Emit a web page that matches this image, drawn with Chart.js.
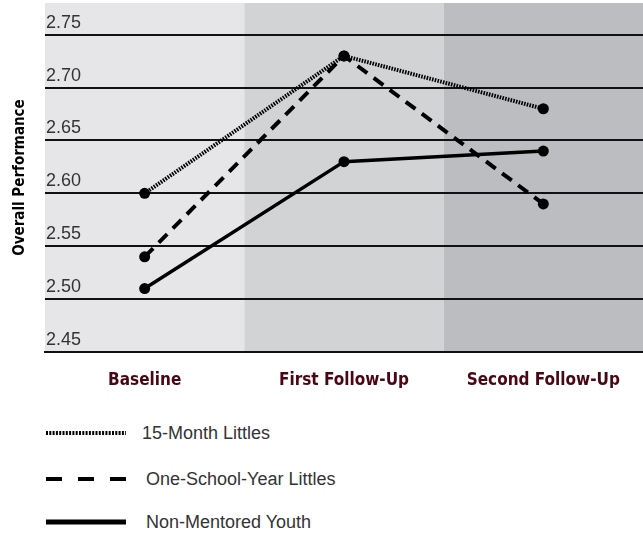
<!DOCTYPE html>
<html>
<head>
<meta charset="utf-8">
<script src="https://cdn.jsdelivr.net/npm/chart.js@4"></script>
<style>
  body { margin: 0; background: #fff; font-family: "Liberation Sans", Arial, sans-serif; }
  #wrap { position: relative; width: 643px; height: 400px; }
  #legend { position: absolute; left: 0; top: 400px; width: 643px; }
  .item { position: absolute; left: 46px; height: 24px; display: flex; align-items: center; }
  .item svg { width: 80px; height: 10px; }
  .item span { margin-left: 16px; font-size: 18px; color: #333; white-space: nowrap; }
</style>
</head>
<body>
<div id="wrap"><canvas id="chart"></canvas></div>
<div id="legend"></div>
<script>
// Mentoring outcomes - overall performance over time
const categories = ['Baseline', 'First Follow-Up', 'Second Follow-Up'];
const fifteenMonth = [2.60, 2.73, 2.68];
const oneSchoolYear = [2.54, 2.73, 2.59];
const nonMentored = [2.51, 2.63, 2.64];
const yTicks = [2.45, 2.50, 2.55, 2.60, 2.65, 2.70, 2.75];
const seriesNames = ['15-Month Littles', 'One-School-Year Littles', 'Non-Mentored Youth'];

const bandColors = ['#e6e6e8', '#d2d3d5', '#bcbdc1'];
const dashes = [[1.6, 1.2], [12, 8], []];
const widths = [4, 4, 3.5];

// shaded column behind each category
const bandPlugin = {
  id: 'bands',
  beforeDraw(chart) {
    const { ctx, chartArea, scales } = chart;
    const px = categories.map((c, i) => scales.x.getPixelForValue(i));
    ctx.save();
    px.forEach((p, i) => {
      const l = i === 0 ? chartArea.left : (px[i - 1] + p) / 2;
      const r = i === px.length - 1 ? chartArea.right : (p + px[i + 1]) / 2;
      ctx.fillStyle = bandColors[i];
      ctx.fillRect(l, chartArea.top, r - l, chartArea.bottom - chartArea.top);
    });
    ctx.restore();
  }
};

// fixed axis sizes, no extra room for end labels
const fitX = (scale) => {
  scale.paddingTop = 0; scale.paddingBottom = 0;
  scale.paddingLeft = 0; scale.paddingRight = 0;
  scale.height = 36;
};
const fitY = (scale) => {
  scale.paddingTop = 0; scale.paddingBottom = 0;
  scale.paddingLeft = 0; scale.paddingRight = 0;
  scale.width = 45;
};

const series = [fifteenMonth, oneSchoolYear, nonMentored];

new Chart(document.getElementById('chart'), {
  type: 'line',
  data: {
    labels: categories,
    datasets: series.map((d, i) => ({
      label: seriesNames[i],
      data: d,
      borderColor: '#000',
      backgroundColor: '#000',
      borderWidth: widths[i],
      borderDash: dashes[i],
      borderCapStyle: 'butt',
      pointRadius: 5.5,
      pointHoverRadius: 5.5,
      pointBackgroundColor: '#000',
      pointBorderWidth: 0,
      tension: 0,
      fill: false
    }))
  },
  options: {
    responsive: true,
    maintainAspectRatio: false,
    animation: false,
    layout: { autoPadding: false, padding: { top: 3, right: 0, bottom: 12, left: 0 } },
    plugins: { legend: { display: false }, tooltip: { enabled: false } },
    scales: {
      x: {
        offset: true,
        afterFit: fitX,
        grid: { display: false, drawTicks: false },
        border: { display: true, color: '#111', width: 2 },
        ticks: {
          padding: 18,
          maxRotation: 0,
          autoSkip: false,
          color: '#4a0614',
          font: { family: '"DejaVu Sans Condensed", "DejaVu Sans"', weight: 'bold', size: 17 }
        }
      },
      y: {
        min: 2.45,
        max: 2.78,
        afterFit: fitY,
        afterBuildTicks: (scale) => { scale.ticks = yTicks.map(v => ({ value: v })); },
        grid: { color: '#111', lineWidth: 2, drawTicks: false },
        border: { display: false },
        ticks: {
          mirror: true,
          padding: 1,
          labelOffset: -12,
          color: '#333',
          font: { family: '"Liberation Sans", Arial', size: 18 },
          callback: (v) => Number(v).toFixed(2)
        },
        title: {
          display: true,
          text: 'Overall Performance',
          color: '#000',
          padding: { top: 11, bottom: 16 },
          font: { family: '"DejaVu Sans Condensed", "DejaVu Sans"', weight: 'bold', size: 15 }
        }
      }
    }
  },
  plugins: [bandPlugin]
});

// legend built below the chart
const legendTops = [21, 67, 110];
const legend = document.getElementById('legend');
seriesNames.forEach((name, i) => {
  const div = document.createElement('div');
  div.className = 'item';
  div.style.top = legendTops[i] + 'px';
  const dash = i === 0 ? '2 1.3' : (i === 1 ? '16 16' : 'none');
  const w = i === 2 ? 5 : 4;
  div.innerHTML = `<svg viewBox="0 0 80 10"><line x1="0" y1="5" x2="80" y2="5" stroke="#000" stroke-width="${w}" stroke-dasharray="${dash}"/></svg><span style="margin-left:${i === 0 ? 16 : 20}px">${name}</span>`;
  legend.appendChild(div);
});
</script>
</body>
</html>
